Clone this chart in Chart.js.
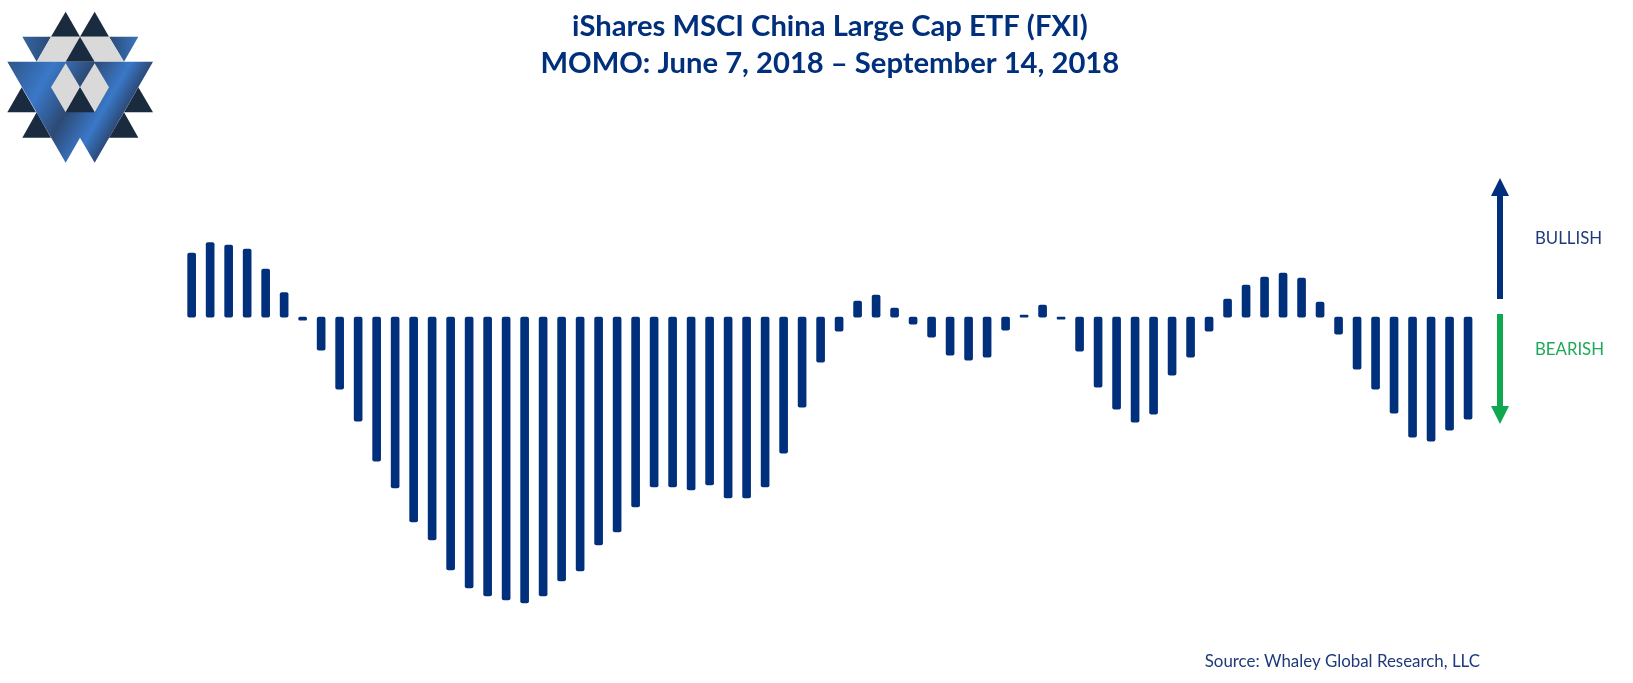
<!DOCTYPE html>
<html>
<head>
<meta charset="utf-8">
<title>FXI MOMO</title>
<script src="https://cdn.jsdelivr.net/npm/chart.js@4"></script>
<style>
  html, body { margin: 0; padding: 0; background: #fff; }
  canvas { display: block; }
</style>
</head>
<body>
<canvas id="momo" width="1633" height="683"></canvas>
<script>
const dates = [
  '6/7', '6/8', '6/11', '6/12', '6/13', '6/14', '6/15', '6/18', '6/19', '6/20',
  '6/21', '6/22', '6/25', '6/26', '6/27', '6/28', '6/29', '7/2', '7/3', '7/5',
  '7/6', '7/9', '7/10', '7/11', '7/12', '7/13', '7/16', '7/17', '7/18', '7/19',
  '7/20', '7/23', '7/24', '7/25', '7/26', '7/27', '7/30', '7/31', '8/1', '8/2',
  '8/3', '8/6', '8/7', '8/8', '8/9', '8/10', '8/13', '8/14', '8/15', '8/16',
  '8/17', '8/20', '8/21', '8/22', '8/23', '8/24', '8/27', '8/28', '8/29', '8/30',
  '8/31', '9/4', '9/5', '9/6', '9/7', '9/10', '9/11', '9/12', '9/13', '9/14'
];
const momo = [
  64, 74.5, 72, 68, 48, 24.5, -3, -33, -72, -104,
  -144, -171, -205, -223, -253, -271, -279, -283, -286, -279,
  -264, -254, -228, -215, -190, -170, -170, -173, -168, -181,
  -181, -170, -136, -90, -45, -14, 16, 22, 9, -7,
  -20, -38, -43, -40, -13, 2, 12, -2, -34, -70,
  -92, -105, -97, -58, -40, -14, 18, 32, 40, 44,
  39, 15, -17, -52, -72, -96, -120, -124, -113, -102
];
const titleLines = ['iShares MSCI China Large Cap ETF (FXI)', 'MOMO: June 7, 2018 – September 14, 2018'];
const sourceText = 'Source: Whaley Global Research, LLC';

const NAVY = '#002f7c';
const GREEN = '#0fa84f';

function poly(c, pts, fill) {
  c.beginPath();
  pts.forEach((p, i) => i ? c.lineTo(p[0], p[1]) : c.moveTo(p[0], p[1]));
  c.closePath();
  c.fillStyle = fill;
  c.fill();
}

function drawLogo(c) {
  c.save();
  c.scale(1 / 3, 1 / 3);
  const dark = '#1a2a3f', grey = '#d9d9d9';
  [
    [[197, 35], [153, 110], [240, 110]],
    [[284, 35], [240, 110], [327, 110]],
    [[65, 262], [22, 337], [108, 337]],
    [[415, 262], [372, 337], [459, 337]],
    [[110, 337], [67, 413], [153, 413]],
    [[372, 337], [327, 413], [415, 413]]
  ].forEach((t) => poly(c, t, dark));

  const smallL = c.createLinearGradient(67, 0, 153, 0);
  smallL.addColorStop(0, '#35659f');
  smallL.addColorStop(1, '#2b4a78');
  poly(c, [[67, 110], [153, 110], [110, 185]], smallL);
  const smallR = c.createLinearGradient(327, 0, 415, 0);
  smallR.addColorStop(0, '#2b4a78');
  smallR.addColorStop(1, '#3a75c0');
  poly(c, [[327, 110], [415, 110], [372, 185]], smallR);

  poly(c, [[153, 110], [240, 110], [197, 185], [110, 185]], grey);
  poly(c, [[240, 110], [327, 110], [372, 185], [284, 185]], grey);
  poly(c, [[240, 110], [197, 185], [284, 185]], dark);

  const g = c.createLinearGradient(22, 185, 350, 374);
  g.addColorStop(0, '#2f5587');
  g.addColorStop(0.33, '#3a78c8');
  g.addColorStop(0.6, '#2d4a75');
  g.addColorStop(0.85, '#3a78c8');
  g.addColorStop(1, '#2c4a78');
  poly(c, [[22, 185], [459, 185], [284, 488], [240, 413], [197, 488]], g);

  poly(c, [[197, 190], [240, 262], [197, 337], [153, 262]], grey);
  poly(c, [[284, 190], [327, 262], [284, 337], [240, 262]], grey);
  poly(c, [[240, 262], [197, 337], [284, 337]], dark);
  c.restore();
}

function drawArrow(c, x, from, headBase, tip, color) {
  c.fillStyle = color;
  c.fillRect(x - 3, Math.min(from, headBase), 6, Math.abs(from - headBase));
  poly(c, [[x - 9, headBase], [x + 9, headBase], [x, tip]], color);
}

const extras = {
  id: 'extras',
  afterDraw(chart) {
    const c = chart.ctx;
    c.save();
    drawLogo(c);
    drawArrow(c, 1500, 299, 196, 178, NAVY);
    drawArrow(c, 1500, 314, 406, 424, GREEN);
    c.textBaseline = 'middle';
    c.textAlign = 'left';
    c.font = '16.8px Lato';
    c.fillStyle = '#1f3a7a';
    c.fillText('BULLISH', 1535, 239);
    c.fillStyle = '#1fa85a';
    c.fillText('BEARISH', 1535, 350);
    c.textAlign = 'right';
    c.font = '16.9px Lato';
    c.fillStyle = '#1f3a7a';
    c.fillText(sourceText, 1480, 662);
    c.restore();
  }
};

new Chart(document.getElementById('momo'), {
  type: 'bar',
  data: {
    labels: dates,
    datasets: [{
      label: 'MOMO',
      data: momo,
      backgroundColor: NAVY,
      barThickness: 8,
      borderRadius: 2,
      borderSkipped: false
    }]
  },
  options: {
    responsive: false,
    animation: false,
    layout: { padding: { left: 182.4, right: 155.7, top: 0, bottom: 63 } },
    scales: {
      x: { display: false, offset: true, grid: { display: false } },
      y: { display: false, min: -303, max: 213, grid: { display: false } }
    },
    plugins: {
      legend: { display: false },
      tooltip: { enabled: false },
      title: {
        display: true,
        text: titleLines,
        color: NAVY,
        font: { family: 'Lato', size: 29.2, weight: 'bold', lineHeight: 1.27 },
        padding: { top: 8, bottom: 22 }
      }
    }
  },
  plugins: [extras]
});
</script>
</body>
</html>
